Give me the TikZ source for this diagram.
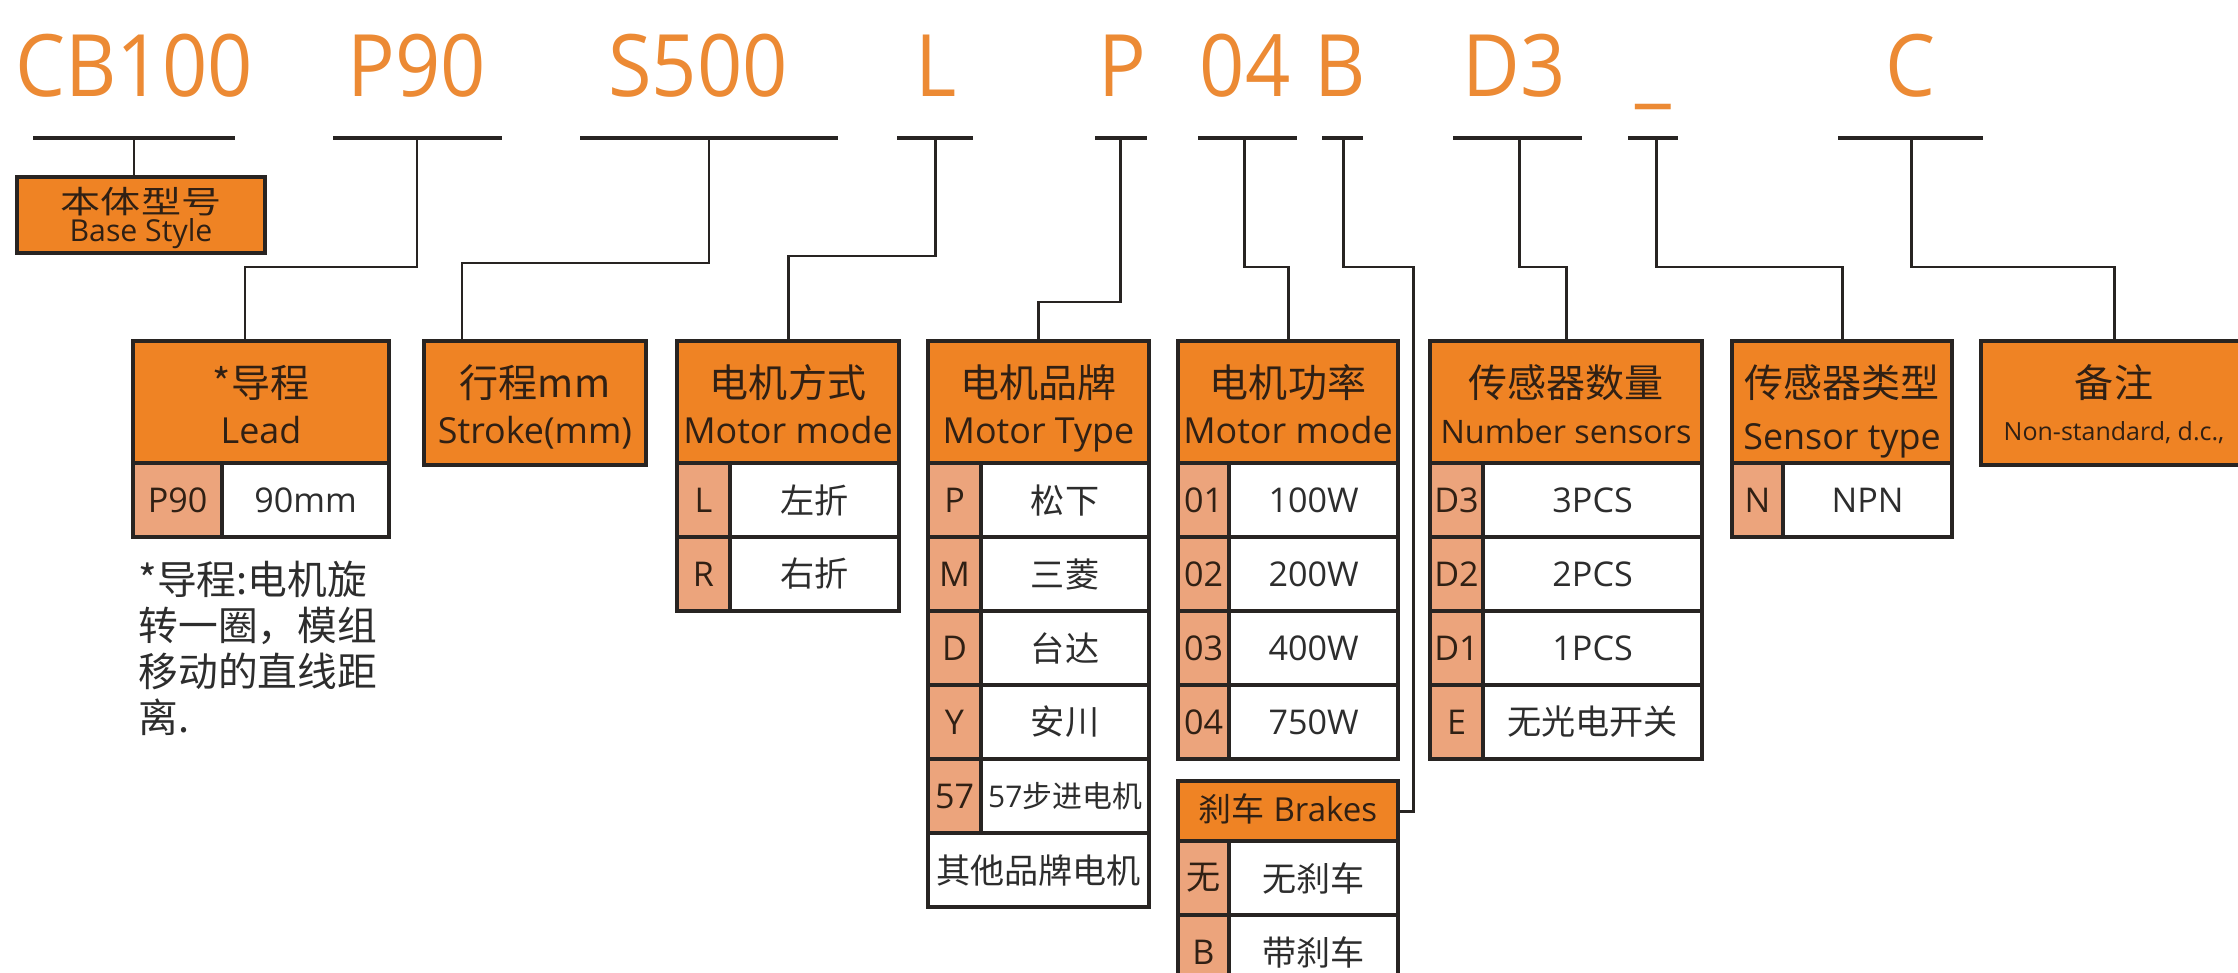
\documentclass[tikz,border=0pt]{standalone}
\usepackage{fontspec}
\setmainfont{Open Sans}
\newfontfamily\cjk{Noto Sans CJK SC}
\newfontfamily\lblfont[FakeStretch=0.92]{Open Sans}
\usetikzlibrary{calc}
\definecolor{topor}{RGB}{236,138,52}
\definecolor{obox}{RGB}{239,131,36}
\definecolor{salm}{RGB}{236,164,124}
\definecolor{ln}{RGB}{40,36,34}
\definecolor{btxt}{RGB}{48,32,20}
\definecolor{rtxt}{RGB}{45,45,45}
\tikzset{
  lbl/.style={text=topor, font=\lblfont\fontsize{24.5}{28}\selectfont, anchor=base, inner sep=0},
  uline/.style={draw=ln, line width=1.15pt},
  conn/.style={draw=ln, line width=0.85pt},
  boxh/.style={draw=ln, line width=1.2pt, fill=obox, anchor=north west, inner sep=0, outer sep=0},
  cellc/.style={draw=ln, line width=1.2pt, fill=salm, anchor=north west, inner sep=0, outer sep=0,
    minimum height=0.74cm, text=btxt, font=\fontsize{9.7}{11}\selectfont},
  cellv/.style={cellc, fill=white, text=rtxt},
  hzh/.style={anchor=base, inner sep=0, text=btxt, font=\cjk\fontsize{11.1}{13}\selectfont},
  hen/.style={anchor=base, inner sep=0, text=btxt, font=\fontsize{10.2}{12}\selectfont},
}
\newcommand{\tabrow}[7]{%
  \node[cellc, minimum width=#4] (#1c) at (#2,#3) {#6};
  \node[cellv, minimum width=#5] (#1v) at (#1c.north east) {#7};
}
\begin{document}
\begin{tikzpicture}[x=0.01cm, y=-0.01cm]
\path[use as bounding box, fill=white] (0,0) rectangle (2238,973);

% ---- top code labels ----
\node[lbl] (tCB) at (134,97) {CB100};
\node[lbl] (tP90) at (417,97) {P90};
\node[lbl] (tS) at (698,97) {S500};
\node[lbl] (tL) at (936,97) {L};
\node[lbl] (tP) at (1122,97) {P};
\node[lbl] (t04) at (1245,97) {04};
\node[lbl] (tB) at (1340,97) {B};
\node[lbl] (tD3) at (1514,97) {D3};
\node[lbl] (tUS) at (1653,97) {\_};
\node[lbl] (tC) at (1910,97) {C};

% ---- underlines ----
\draw[uline] (33,138) -- (235,138);
\draw[uline] (333,138) -- (502,138);
\draw[uline] (580,138) -- (838,138);
\draw[uline] (897,138) -- (973,138);
\draw[uline] (1095,138) -- (1147,138);
\draw[uline] (1198,138) -- (1297,138);
\draw[uline] (1322,138) -- (1363,138);
\draw[uline] (1453,138) -- (1582,138);
\draw[uline] (1628,138) -- (1678,138);
\draw[uline] (1838,138) -- (1983,138);

\coordinate (dCB) at (134,138);
\coordinate (dP90) at (417,138);
\coordinate (dS) at (709,138);
\coordinate (dL) at (935,138);
\coordinate (dP) at (1120,138);
\coordinate (d04) at (1244,138);
\coordinate (dB) at (1343,138);
\coordinate (dD3) at (1519,138);
\coordinate (dUS) at (1656,138);
\coordinate (dC) at (1911,138);

% ---- base style ----
\node[boxh, minimum width=2.48cm, minimum height=0.76cm] (base) at (17,177) {};
\node[anchor=base, inner sep=0, text=btxt, font=\cjk\fontsize{11.4}{13}\selectfont] (baseZh) at (141,214) {\scalebox{1}[0.78]{本体型号}};
\node[anchor=base, inner sep=0, text=btxt, font=\fontsize{8.6}{10}\selectfont] (baseEn) at (141,242) {Base Style};

% ---- lead ----
\node[boxh, minimum width=2.56cm, minimum height=1.22cm] (leadH) at (133,341) {};
\node[hzh] (leadZh) at (261,397) {*导程};
\node[hen] (leadEn) at (261,444) {Lead};
\tabrow{leadA}{133}{463}{0.89cm}{1.67cm}{P90}{90mm}
\node[anchor=north west, align=left, inner sep=0, text=rtxt, font=\cjk\fontsize{11.3}{13.1}\selectfont] (leadNote) at (138,560) {*导程:电机旋\\转一圈，模组\\移动的直线距\\离.};

% ---- stroke ----
\node[boxh, minimum width=2.22cm, minimum height=1.24cm] (strH) at (424,341) {};
\node[hzh] (strZh) at (535,397) {行程mm};
\node[hen] (strEn) at (535,444) {Stroke(mm)};

% ---- motor mode ----
\node[boxh, minimum width=2.22cm, minimum height=1.22cm] (mmH) at (677,341) {};
\node[hzh] (mmZh) at (788,397) {电机方式};
\node[hen] (mmEn) at (788,444) {Motor mode};
\tabrow{mmA}{677}{463}{0.53cm}{1.69cm}{L}{\cjk 左折}
\tabrow{mmB}{677}{537}{0.53cm}{1.69cm}{R}{\cjk 右折}

% ---- motor type ----
\node[boxh, minimum width=2.21cm, minimum height=1.22cm] (mtH) at (928,341) {};
\node[hzh] (mtZh) at (1038.5,397) {电机品牌};
\node[hen] (mtEn) at (1038.5,444) {Motor Type};
\tabrow{mtA}{928}{463}{0.53cm}{1.68cm}{P}{\cjk 松下}
\tabrow{mtB}{928}{537}{0.53cm}{1.68cm}{M}{\cjk 三菱}
\tabrow{mtC}{928}{611}{0.53cm}{1.68cm}{D}{\cjk 台达}
\tabrow{mtD}{928}{685}{0.53cm}{1.68cm}{Y}{\cjk 安川}
\tabrow{mtE}{928}{759}{0.53cm}{1.68cm}{57}{\fontsize{8.5}{10}\selectfont 57{\cjk 步进电机}}
\node[cellv, minimum width=2.21cm] (mtF) at (928,833) {\cjk 其他品牌电机};

% ---- motor power ----
\node[boxh, minimum width=2.20cm, minimum height=1.22cm] (pwH) at (1178,341) {};
\node[hzh] (pwZh) at (1288,397) {电机功率};
\node[hen] (pwEn) at (1288,444) {Motor mode};
\tabrow{pwA}{1178}{463}{0.51cm}{1.69cm}{01}{100W}
\tabrow{pwB}{1178}{537}{0.51cm}{1.69cm}{02}{200W}
\tabrow{pwC}{1178}{611}{0.51cm}{1.69cm}{03}{400W}
\tabrow{pwD}{1178}{685}{0.51cm}{1.69cm}{04}{750W}

% ---- brakes ----
\node[boxh, minimum width=2.20cm, minimum height=0.60cm] (brH) at (1178,781) {};
\node[anchor=base, inner sep=0, text=btxt, font=\fontsize{9.4}{11}\selectfont] (brT) at (1288,821) {{\cjk 刹车}\ Brakes};
\tabrow{brA}{1178}{841}{0.51cm}{1.69cm}{\cjk 无}{\cjk 无刹车}
\tabrow{brB}{1178}{915}{0.51cm}{1.69cm}{B}{\cjk 带刹车}

% ---- sensor count ----
\node[boxh, minimum width=2.72cm, minimum height=1.22cm] (scH) at (1430,341) {};
\node[hzh] (scZh) at (1566,397) {传感器数量};
\node[hen, font=\fontsize{9.2}{11}\selectfont] (scEn) at (1566,444) {Number sensors};
\tabrow{scA}{1430}{463}{0.53cm}{2.19cm}{D3}{3PCS}
\tabrow{scB}{1430}{537}{0.53cm}{2.19cm}{D2}{2PCS}
\tabrow{scC}{1430}{611}{0.53cm}{2.19cm}{D1}{1PCS}
\tabrow{scD}{1430}{685}{0.53cm}{2.19cm}{E}{\cjk 无光电开关}

% ---- sensor type ----
\node[boxh, minimum width=2.20cm, minimum height=1.22cm] (stH) at (1732,341) {};
\node[hzh] (stZh) at (1842,397) {传感器类型};
\node[hen] (stEn) at (1842,449) {Sensor type};
\tabrow{stA}{1732}{463}{0.51cm}{1.69cm}{N}{NPN}

% ---- remarks ----
\node[boxh, minimum width=2.80cm, minimum height=1.24cm] (ntH) at (1981,341) {};
\node[hzh] (ntZh) at (2114,397) {备注};
\node[hen, font=\fontsize{7.1}{9}\selectfont] (ntEn) at (2114,440) {Non-standard, d.c.,};

% ---- connectors ----
\coordinate (bP90) at (245,267);
\coordinate (bS) at (462,263);
\coordinate (bL) at (788,256);
\coordinate (bP) at (1038.5,302);
\coordinate (b04) at (1288,267);
\coordinate (bB) at (1413,267);
\coordinate (bD3) at (1566,267);
\coordinate (bUS) at (1842,267);
\coordinate (bC) at (2114,267);
\draw[conn] (dCB) -- (dCB |- base.north);
\draw[conn] (dP90) |- (bP90) -- (bP90 |- leadH.north);
\draw[conn] (dS) |- (bS) -- (bS |- strH.north);
\draw[conn] (dL) |- (bL) -- (bL |- mmH.north);
\draw[conn] (dP) |- (bP) -- (bP |- mtH.north);
\draw[conn] (d04) |- (b04) -- (b04 |- pwH.north);
\draw[conn] (dB) |- (bB) -- (bB |- brH.east) -- (brH.east);
\draw[conn] (dD3) |- (bD3) -- (bD3 |- scH.north);
\draw[conn] (dUS) |- (bUS) -- (bUS |- stH.north);
\draw[conn] (dC) |- (bC) -- (bC |- ntH.north);
\end{tikzpicture}
\end{document}
